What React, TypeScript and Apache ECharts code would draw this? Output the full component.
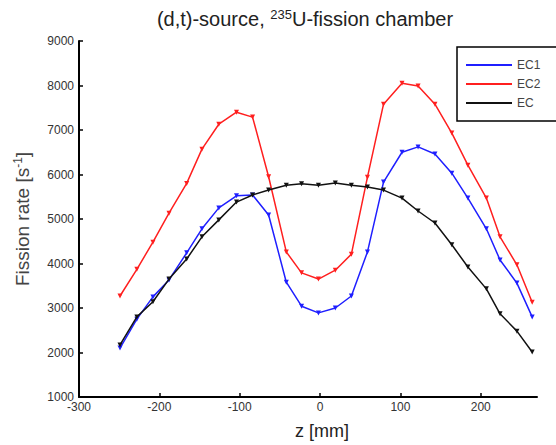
import React, { useEffect, useRef } from "react";
import * as echarts from "echarts";

const zPositions = [-249, -228, -208, -188, -166, -147, -126, -104, -84, -64, -42, -23, -2, 19, 39, 59, 79, 102, 122, 143, 164, 184, 207, 224, 245, 264];
const ec1Values = [2100, 2750, 3250, 3630, 4240, 4780, 5250, 5520, 5540, 5090, 3580, 3040, 2890, 3000, 3270, 4260, 5830, 6500, 6620, 6460, 6030, 5470, 4780, 4080, 3560, 2800];
const ec2Values = [3270, 3870, 4480, 5130, 5800, 6570, 7130, 7400, 7290, 5950, 4260, 3790, 3650, 3850, 4210, 5940, 7580, 8050, 7990, 7580, 6930, 6210, 5470, 4600, 3970, 3130];
const ecValues = [2170, 2800, 3140, 3650, 4100, 4600, 4980, 5380, 5540, 5650, 5760, 5790, 5760, 5810, 5760, 5720, 5650, 5470, 5180, 4910, 4420, 3920, 3430, 2870, 2480, 2010];
const seriesNames = ["EC1", "EC2", "EC"];
const seriesColors = ["#1f1fff", "#ff1f1f", "#111111"];

const FONT = "Liberation Sans, Arial, sans-serif";

function pairs(vals: number[]) {
  return zPositions.map((z, i) => [z, vals[i]]);
}

export default function App() {
  const ref = useRef<HTMLDivElement>(null);
  useEffect(() => {
    if (!ref.current) return;
    const chart = echarts.init(ref.current, null, { renderer: "svg" });
    const allVals = [ec1Values, ec2Values, ecValues];
    chart.setOption({
      animation: false,
      backgroundColor: "#ffffff",
      grid: { left: 79, top: 41, right: 19, bottom: 48, containLabel: false },
      graphic: [
        {
          type: "text",
          style: {
            x: 305,
            y: 19,
            text: "(d,t)-source, {sup|235}U-fission chamber",
            font: `20px ${FONT}`,
            fill: "#222",
            align: "center",
            verticalAlign: "middle",
            rich: {
              sup: { fontSize: 13, verticalAlign: "top", padding: [0, 0, 10, 0], fontFamily: FONT, fill: "#222" },
            },
          },
        },
        {
          type: "text",
          style: {
            x: 322,
            y: 431,
            text: "z [mm]",
            font: `18px ${FONT}`,
            fill: "#222",
            align: "center",
            verticalAlign: "middle",
          },
        },
      ],
      legend: {
        data: seriesNames,
        orient: "vertical",
        left: 457,
        top: 47,
        icon: "rect",
        itemWidth: 46,
        itemHeight: 2,
        itemGap: 7,
        padding: [12, 28, 12, 9],
        borderColor: "#000",
        borderWidth: 1.5,
        backgroundColor: "#fff",
        textStyle: { fontFamily: FONT, fontSize: 12, color: "#444" },
      },
      xAxis: {
        type: "value",
        min: -300,
        max: 270,
        interval: 100,
        axisLine: { show: true, onZero: false, lineStyle: { color: "#000", width: 2 } },
        axisTick: { show: true, inside: true, length: 4, lineStyle: { color: "#000", width: 1.5 } },
        axisLabel: {
          fontFamily: FONT,
          fontSize: 12,
          color: "#333",
          margin: 4,
          showMaxLabel: false,
          showMinLabel: true,
          formatter: (v: number) => String(v),
        },
        splitLine: { show: false },
      },
      yAxis: {
        type: "value",
        min: 1000,
        max: 9000,
        interval: 1000,
        name: "Fission rate [s{sup|-1}]",
        nameLocation: "middle",
        nameGap: 47,
        nameRotate: 90,
        nameTextStyle: {
          fontFamily: FONT,
          fontSize: 19,
          color: "#444",
          rich: { sup: { fontSize: 12, verticalAlign: "top", padding: [0, 0, 8, 0], color: "#444" } },
        },
        axisLine: { show: true, onZero: false, lineStyle: { color: "#000", width: 2 } },
        axisTick: { show: true, inside: true, length: 4, lineStyle: { color: "#000", width: 1.5 } },
        axisLabel: {
          fontFamily: FONT,
          fontSize: 12,
          color: "#333",
          margin: 5,
          formatter: (v: number) => String(v),
        },
        splitLine: { show: false },
      },
      series: seriesNames.map((name, i) => ({
        name,
        type: "line",
        data: pairs(allVals[i]),
        symbol: "triangle",
        symbolRotate: 180,
        symbolSize: 5,
        showSymbol: true,
        lineStyle: { color: seriesColors[i], width: 1.5 },
        itemStyle: { color: seriesColors[i] },
        z: i === 2 ? 3 : 2,
      })),
    });
    return () => chart.dispose();
  }, []);
  return <div ref={ref} style={{ width: 556, height: 445, position: "absolute", left: 0, top: 0 }} />;
}
